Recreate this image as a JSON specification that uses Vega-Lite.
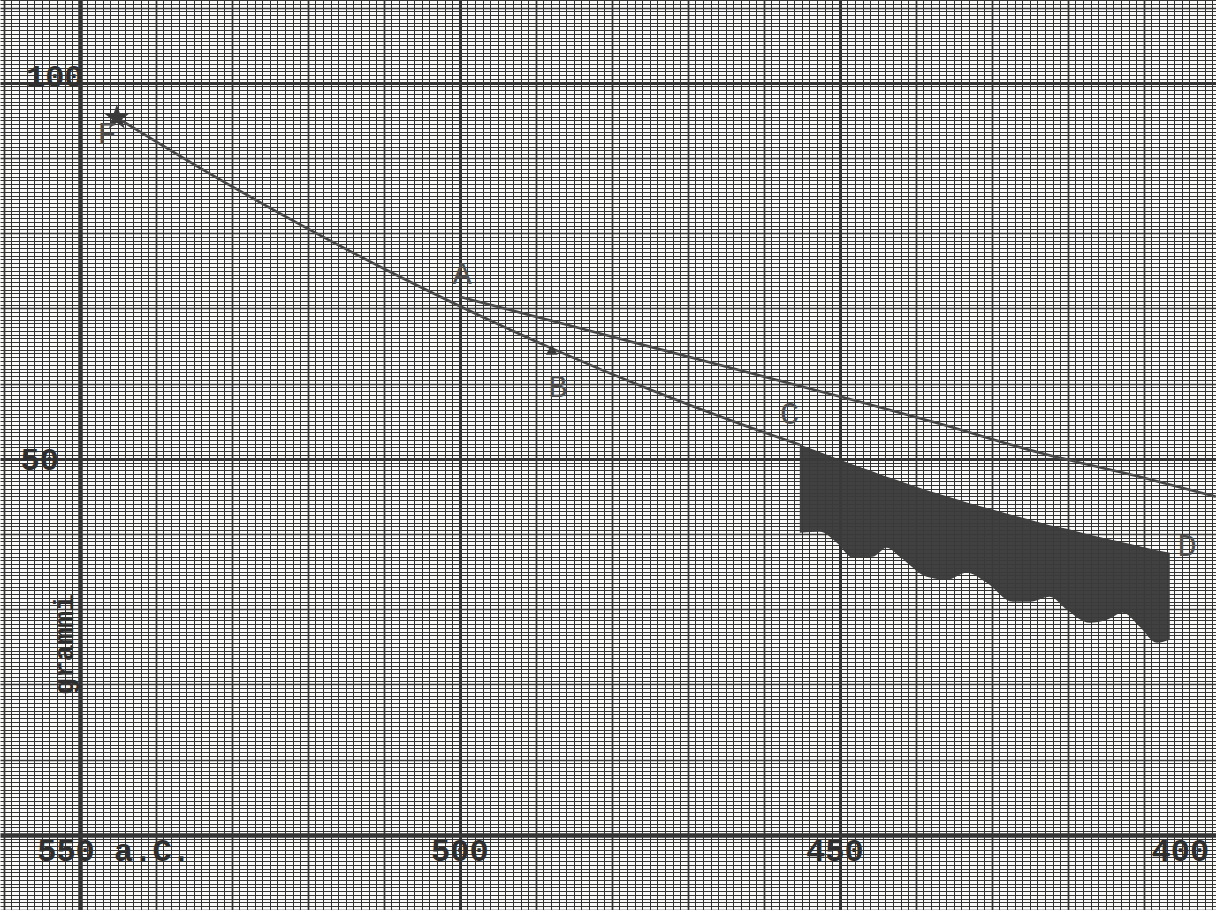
{
  "$schema": "https://vega.github.io/schema/vega-lite/v6.json",
  "width": 1216,
  "height": 910,
  "autosize": {"type": "fit", "contains": "padding"},
  "padding": 0,
  "background": "#f9f9f7",
  "config": {
    "view": {"stroke": null},
    "axis": {"labels": false, "ticks": false, "domain": false, "grid": true, "gridColor": "#333333", "gridOpacity": 1, "title": null}
  },
  "datasets": {
    "curves": [
      {"curve": "F-C", "year": 545.13, "value": 95.35},
      {"curve": "F-C", "year": 534.21, "value": 88.68},
      {"curve": "F-C", "year": 521.05, "value": 81.17},
      {"curve": "F-C", "year": 507.89, "value": 74.20},
      {"curve": "F-C", "year": 500.39, "value": 70.48},
      {"curve": "F-C", "year": 487.76, "value": 64.61},
      {"curve": "F-C", "year": 475.0, "value": 59.20},
      {"curve": "F-C", "year": 463.16, "value": 54.65},
      {"curve": "F-C", "year": 455.26, "value": 51.86},
      {"curve": "A-D", "year": 500.0, "value": 71.54},
      {"curve": "A-D", "year": 489.47, "value": 68.75},
      {"curve": "A-D", "year": 478.95, "value": 65.96},
      {"curve": "A-D", "year": 468.42, "value": 63.16},
      {"curve": "A-D", "year": 457.89, "value": 60.37},
      {"curve": "A-D", "year": 447.37, "value": 57.58},
      {"curve": "A-D", "year": 436.84, "value": 54.65},
      {"curve": "A-D", "year": 423.68, "value": 50.80},
      {"curve": "A-D", "year": 410.53, "value": 47.60},
      {"curve": "A-D", "year": 400.53, "value": 44.95}
    ],
    "band": [
      {"year": 455.26, "top": 51.86, "bottom": 40.16},
      {"year": 452.63, "top": 50.90, "bottom": 40.29},
      {"year": 450.39, "top": 50.05, "bottom": 38.83},
      {"year": 448.29, "top": 49.25, "bottom": 36.84},
      {"year": 445.66, "top": 48.30, "bottom": 36.97},
      {"year": 443.82, "top": 47.60, "bottom": 38.16},
      {"year": 442.11, "top": 47.05, "bottom": 36.97},
      {"year": 438.55, "top": 45.80, "bottom": 34.31},
      {"year": 435.92, "top": 45.00, "bottom": 33.91},
      {"year": 433.29, "top": 44.20, "bottom": 34.84},
      {"year": 430.66, "top": 43.45, "bottom": 33.51},
      {"year": 427.24, "top": 42.50, "bottom": 30.98},
      {"year": 425.00, "top": 41.90, "bottom": 30.98},
      {"year": 422.37, "top": 41.16, "bottom": 31.65},
      {"year": 420.13, "top": 40.69, "bottom": 29.92},
      {"year": 417.11, "top": 39.89, "bottom": 28.19},
      {"year": 414.87, "top": 39.36, "bottom": 28.59},
      {"year": 412.76, "top": 38.90, "bottom": 29.52},
      {"year": 410.53, "top": 38.36, "bottom": 27.66},
      {"year": 408.29, "top": 37.83, "bottom": 25.53},
      {"year": 406.58, "top": 37.50, "bottom": 25.93}
    ],
    "letters": [
      {"label": "A", "year": 499.7, "value": 74.6},
      {"label": "B", "year": 487.1, "value": 59.6},
      {"label": "C", "year": 456.6, "value": 56.0},
      {"label": "D", "year": 404.3, "value": 38.4},
      {"label": "F", "year": 546.4, "value": 93.2}
    ],
    "ticklabels": [
      {"label": "100", "year": 553.3, "value": 100.8},
      {"label": "50", "year": 555.26, "value": 49.87},
      {"label": "550 a.C.", "year": 545.5, "value": -2.13},
      {"label": "500", "year": 500.0, "value": -2.13},
      {"label": "450", "year": 450.66, "value": -2.13},
      {"label": "400", "year": 405.2, "value": -2.13}
    ],
    "unit": [
      {"label": "grammi", "year": 551.9, "value": 25.3}
    ],
    "markers": [
      {"kind": "star", "year": 545.13, "value": 95.35},
      {"kind": "arrow", "year": 487.9, "value": 64.5}
    ]
  },
  "layer": [
    {
      "data": {"name": "curves"},
      "mark": {"type": "line", "interpolate": "monotone", "color": "#484848", "strokeWidth": 2.6, "clip": true},
      "encoding": {
        "x": {"field": "year", "type": "quantitative", "title": null,
              "scale": {"domain": [400.5, 560.5], "reverse": true, "nice": false, "zero": false},
              "axis": {"tickCount": 200,
                       "gridWidth": {"condition": [{"test": "datum.value == 550", "value": 4.5}, {"test": "datum.value % 50 === 0", "value": 3}, {"test": "datum.value % 10 === 0", "value": 1.7}], "value": 1}}},
        "y": {"field": "value", "type": "quantitative", "title": null,
              "scale": {"domain": [-10, 111], "nice": false, "zero": false},
              "axis": {"tickCount": 200,
                       "gridWidth": {"condition": [{"test": "datum.value === 0", "value": 4.5}, {"test": "datum.value % 50 === 0", "value": 3}, {"test": "datum.value % 10 === 0", "value": 1.7}], "value": 1}}},
        "detail": {"field": "curve", "type": "nominal"}
      }
    },
    {
      "data": {"name": "band"},
      "mark": {"type": "area", "interpolate": "monotone", "color": "#3b3b3b", "opacity": 0.97, "clip": true},
      "encoding": {
        "x": {"field": "year", "type": "quantitative", "title": null},
        "y": {"field": "top", "type": "quantitative", "title": null},
        "y2": {"field": "bottom"}
      }
    },
    {
      "data": {"name": "markers"},
      "transform": [{"filter": "datum.kind === 'star'"}],
      "mark": {"type": "point", "filled": true, "color": "#3a3a3a", "size": 700, "opacity": 1,
               "shape": "M0,-1L0.24,-0.31L0.95,-0.31L0.38,0.12L0.59,0.81L0,0.38L-0.59,0.81L-0.38,0.12L-0.95,-0.31L-0.24,-0.31Z"},
      "encoding": {
        "x": {"field": "year", "type": "quantitative", "title": null},
        "y": {"field": "value", "type": "quantitative", "title": null}
      }
    },
    {
      "data": {"name": "markers"},
      "transform": [{"filter": "datum.kind === 'arrow'"}],
      "mark": {"type": "point", "filled": true, "color": "#3a3a3a", "size": 140, "opacity": 1, "shape": "triangle-up"},
      "encoding": {
        "x": {"field": "year", "type": "quantitative", "title": null},
        "y": {"field": "value", "type": "quantitative", "title": null}
      }
    },
    {
      "data": {"name": "letters"},
      "mark": {"type": "text", "font": "Liberation Mono", "fontSize": 32, "color": "#505050", "clip": true},
      "encoding": {
        "x": {"field": "year", "type": "quantitative", "title": null},
        "y": {"field": "value", "type": "quantitative", "title": null},
        "text": {"field": "label"}
      }
    },
    {
      "data": {"name": "ticklabels"},
      "mark": {"type": "text", "font": "Liberation Mono", "fontSize": 32, "fontWeight": "bold", "color": "#2e2e2e", "clip": true},
      "encoding": {
        "x": {"field": "year", "type": "quantitative", "title": null},
        "y": {"field": "value", "type": "quantitative", "title": null},
        "text": {"field": "label"}
      }
    },
    {
      "data": {"name": "unit"},
      "mark": {"type": "text", "font": "Liberation Mono", "fontSize": 28, "fontWeight": "bold", "angle": 270, "color": "#2e2e2e", "clip": true},
      "encoding": {
        "x": {"field": "year", "type": "quantitative", "title": null},
        "y": {"field": "value", "type": "quantitative", "title": null},
        "text": {"field": "label"}
      }
    }
  ]
}
